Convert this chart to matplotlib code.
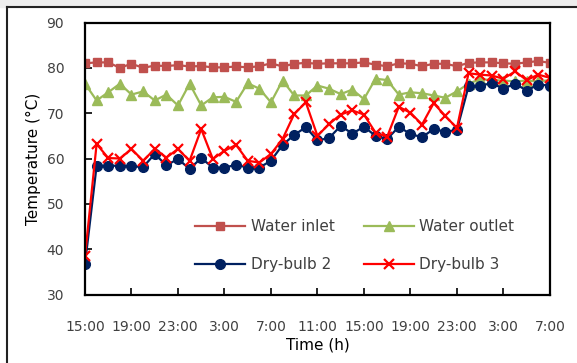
import numpy as np
import matplotlib
matplotlib.use("Agg")
import matplotlib.pyplot as plt
from matplotlib.lines import Line2D

# hourly readings, 15:00 day 1 -> 7:00 day 3 (41 points)
hours = np.arange(41)
tick_hours = np.arange(0, 41, 4)
tick_labels = ["15:00", "19:00", "23:00", "3:00", "7:00", "11:00",
               "15:00", "19:00", "23:00", "3:00", "7:00"]

water_inlet = [81.0, 81.2, 81.2, 80.0, 80.9, 80.0, 80.5, 80.4, 80.6, 80.3,
               80.4, 80.1, 80.1, 80.3, 80.1, 80.35, 81.0, 80.3, 80.9, 81.1,
               80.9, 81.0, 81.0, 81.0, 81.2, 80.7, 80.35, 81.0, 80.9, 80.35,
               80.9, 80.9, 80.35, 81.1, 81.2, 81.2, 81.0, 80.9, 81.2, 81.5,
               81.1]
water_outlet = [76.5, 72.8, 74.6, 76.5, 74.1, 74.8, 72.8, 74.1, 71.7, 76.5,
                71.7, 73.5, 73.6, 72.5, 76.6, 75.4, 72.4, 77.2, 73.9, 73.9,
                76.1, 75.4, 74.2, 75.2, 73.1, 77.6, 77.3, 74.1, 74.6, 74.4,
                73.9, 73.4, 74.8, 76.5, 77.5, 77.3, 77.2, 77.0, 77.2, 77.0,
                77.3]
dry_bulb_2 = [36.7, 58.4, 58.4, 58.4, 58.3, 58.1, 61.0, 58.5, 59.9, 57.7,
              60.1, 58.0, 58.0, 58.6, 58.0, 58.0, 59.5, 63.0, 65.2, 66.9,
              64.0, 64.5, 67.2, 65.5, 67.0, 65.0, 64.3, 67.0, 65.4, 64.7,
              66.5, 65.9, 66.3, 75.9, 76.1, 76.6, 75.4, 76.5, 75.0, 76.3,
              76.1]
dry_bulb_3 = [38.4, 63.2, 60.1, 60.0, 62.1, 59.5, 62.1, 60.2, 62.1, 59.5,
              66.5, 59.9, 61.7, 63.0, 59.5, 59.1, 61.0, 64.3, 69.8, 72.4,
              65.0, 67.6, 69.7, 70.6, 69.7, 65.7, 64.8, 71.4, 70.1, 67.5,
              72.2, 69.4, 66.7, 78.8, 78.5, 78.3, 77.6, 79.2, 77.3, 78.5,
              77.8]

fig = plt.figure(figsize=(5.77, 3.63), dpi=100)
ax = fig.add_axes([0.1473, 0.1887, 0.8057, 0.7493])

l1, = ax.plot(hours, water_inlet, color="#C0504D", lw=1.6, marker="s", ms=5.5,
              label="Water inlet")
l2, = ax.plot(hours, water_outlet, color="#9BBB59", lw=1.6, marker="^", ms=6.5,
              label="Water outlet")
l3, = ax.plot(hours, dry_bulb_2, color="#002060", lw=1.6, marker="o", ms=7,
              label="Dry-bulb 2")
l4, = ax.plot(hours, dry_bulb_3, color="#FF0000", lw=1.6, marker="x", ms=7.5,
              mew=1.6, label="Dry-bulb 3")

ax.set_xlim(0, 40)
ax.set_ylim(30, 90)
ax.set_xticks(tick_hours)
ax.set_xticklabels(tick_labels)
ax.set_yticks(np.arange(30, 91, 10))
ax.tick_params(axis="both", direction="in", length=5, width=1.2,
               labelsize=10, labelcolor="#404040", color="black")
ax.tick_params(axis="x", pad=18)
ax.tick_params(axis="y", pad=15)
for s in ax.spines.values():
    s.set_linewidth(1.6)
    s.set_color("black")

ax.set_xlabel("Time (h)", fontsize=11, labelpad=3)
ax.set_ylabel("Temperature (\u00b0C)", fontsize=11, labelpad=4)

# row-wise order: inlet / outlet on top, dry-bulbs below
ax.legend([l1, l3, l2, l4], ["Water inlet", "Dry-bulb 2", "Water outlet", "Dry-bulb 3"],
          loc="upper left", bbox_to_anchor=(0.207, 0.328), ncol=2,
          frameon=False, fontsize=11, handlelength=3.3, columnspacing=1.9,
          labelspacing=1.5, handletextpad=0.35, labelcolor="#404040")

# chart area border (top and left edges visible)
fig.patches.append(plt.Rectangle((0, 0.981), 1, 0.019, transform=fig.transFigure,
                                 color="#EDEDED", zorder=0))
fig.add_artist(Line2D([0.012, 1], [0.981, 0.981], color="#222222", lw=1.5))
fig.add_artist(Line2D([0.012, 0.012], [0, 0.981], color="#222222", lw=1.5))

fig.savefig("out.png", dpi=100)
